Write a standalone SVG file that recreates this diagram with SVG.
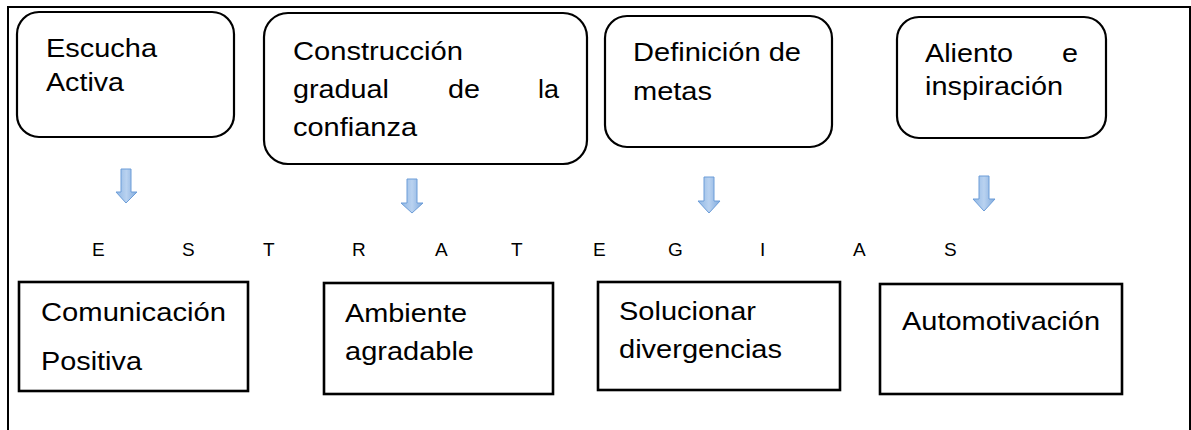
<svg xmlns="http://www.w3.org/2000/svg" width="1191" height="430" viewBox="0 0 1191 430">
<defs>
<linearGradient id="ag" x1="0" y1="0" x2="1" y2="0">
<stop offset="0" stop-color="#90b7e4"/>
<stop offset="0.5" stop-color="#b9d2f0"/>
<stop offset="1" stop-color="#80aadd"/>
</linearGradient>
<style>
.t{font-family:"Liberation Sans",Arial,sans-serif;font-size:25.5px;fill:#000}
.s{font-family:"Liberation Sans",Arial,sans-serif;font-size:19px;fill:#000}
.rb{fill:#fff;stroke:#000;stroke-width:2.2}
.sb{fill:#fff;stroke:#000;stroke-width:2.6}
.ar{fill:url(#ag);stroke:#6c9dd8;stroke-width:1}
</style>
</defs>
<rect width="1191" height="430" fill="#fff"/>
<path d="M8,430 V7 H1190 V430" fill="none" stroke="#000" stroke-width="2"/>

<g id="n-escucha">
<rect class="rb" x="17" y="12" width="217" height="125" rx="22"/>
<text class="t" x="46" y="57" textLength="111" lengthAdjust="spacingAndGlyphs">Escucha</text>
<text class="t" x="46" y="91" textLength="78" lengthAdjust="spacingAndGlyphs">Activa</text>
</g>
<g id="n-construccion">
<rect class="rb" x="264" y="13" width="323" height="151" rx="24"/>
<text class="t" x="293" y="60" textLength="170" lengthAdjust="spacingAndGlyphs">Construcción</text>
<text class="t" x="293" y="98" textLength="96" lengthAdjust="spacingAndGlyphs">gradual</text>
<text class="t" x="448" y="98" textLength="32" lengthAdjust="spacingAndGlyphs">de</text>
<text class="t" x="538" y="98" textLength="21" lengthAdjust="spacingAndGlyphs">la</text>
<text class="t" x="293" y="136" textLength="124" lengthAdjust="spacingAndGlyphs">confianza</text>
</g>
<g id="n-definicion">
<rect class="rb" x="605" y="16" width="227" height="131" rx="22"/>
<text class="t" x="633" y="61" textLength="168" lengthAdjust="spacingAndGlyphs">Definición de</text>
<text class="t" x="633" y="100" textLength="79" lengthAdjust="spacingAndGlyphs">metas</text>
</g>
<g id="n-aliento">
<rect class="rb" x="897" y="17" width="209" height="121" rx="22"/>
<text class="t" x="925" y="62" textLength="88" lengthAdjust="spacingAndGlyphs">Aliento</text>
<text class="t" x="1062" y="62" textLength="16" lengthAdjust="spacingAndGlyphs">e</text>
<text class="t" x="925" y="95" textLength="138" lengthAdjust="spacingAndGlyphs">inspiración</text>
</g>

<g id="connectors">
<path class="ar" d="M121,169 H131 V192 H137 L126,203 L116,192 H121 Z"/>
<path class="ar" d="M407,179 H417 V203 H423 L412,213 L401,203 H407 Z"/>
<path class="ar" d="M704,177 H714 V201 H720 L709,213 L698,201 H704 Z"/>
<path class="ar" d="M979,176 H989 V199 H995 L984,211 L973,199 H979 Z"/>
</g>

<g id="estrategias">
<text class="s" x="92" y="256">E</text>
<text class="s" x="182" y="256">S</text>
<text class="s" x="263" y="256">T</text>
<text class="s" x="352" y="256">R</text>
<text class="s" x="435" y="256">A</text>
<text class="s" x="511" y="256">T</text>
<text class="s" x="593" y="256">E</text>
<text class="s" x="668" y="256">G</text>
<text class="s" x="760" y="256">I</text>
<text class="s" x="853" y="256">A</text>
<text class="s" x="944" y="256">S</text>
</g>

<g id="n-comunicacion">
<rect class="sb" x="19" y="282" width="229" height="109"/>
<text class="t" x="41" y="321" textLength="185" lengthAdjust="spacingAndGlyphs">Comunicación</text>
<text class="t" x="41" y="370" textLength="101" lengthAdjust="spacingAndGlyphs">Positiva</text>
</g>
<g id="n-ambiente">
<rect class="sb" x="324" y="283" width="229" height="111"/>
<text class="t" x="345" y="322" textLength="122" lengthAdjust="spacingAndGlyphs">Ambiente</text>
<text class="t" x="345" y="360" textLength="129" lengthAdjust="spacingAndGlyphs">agradable</text>
</g>
<g id="n-solucionar">
<rect class="sb" x="598" y="282" width="242" height="108"/>
<text class="t" x="619" y="320" textLength="137" lengthAdjust="spacingAndGlyphs">Solucionar</text>
<text class="t" x="619" y="358" textLength="163" lengthAdjust="spacingAndGlyphs">divergencias</text>
</g>
<g id="n-automotivacion">
<rect class="sb" x="880" y="284" width="242" height="110"/>
<text class="t" x="902" y="330" textLength="198" lengthAdjust="spacingAndGlyphs">Automotivación</text>
</g>
</svg>
